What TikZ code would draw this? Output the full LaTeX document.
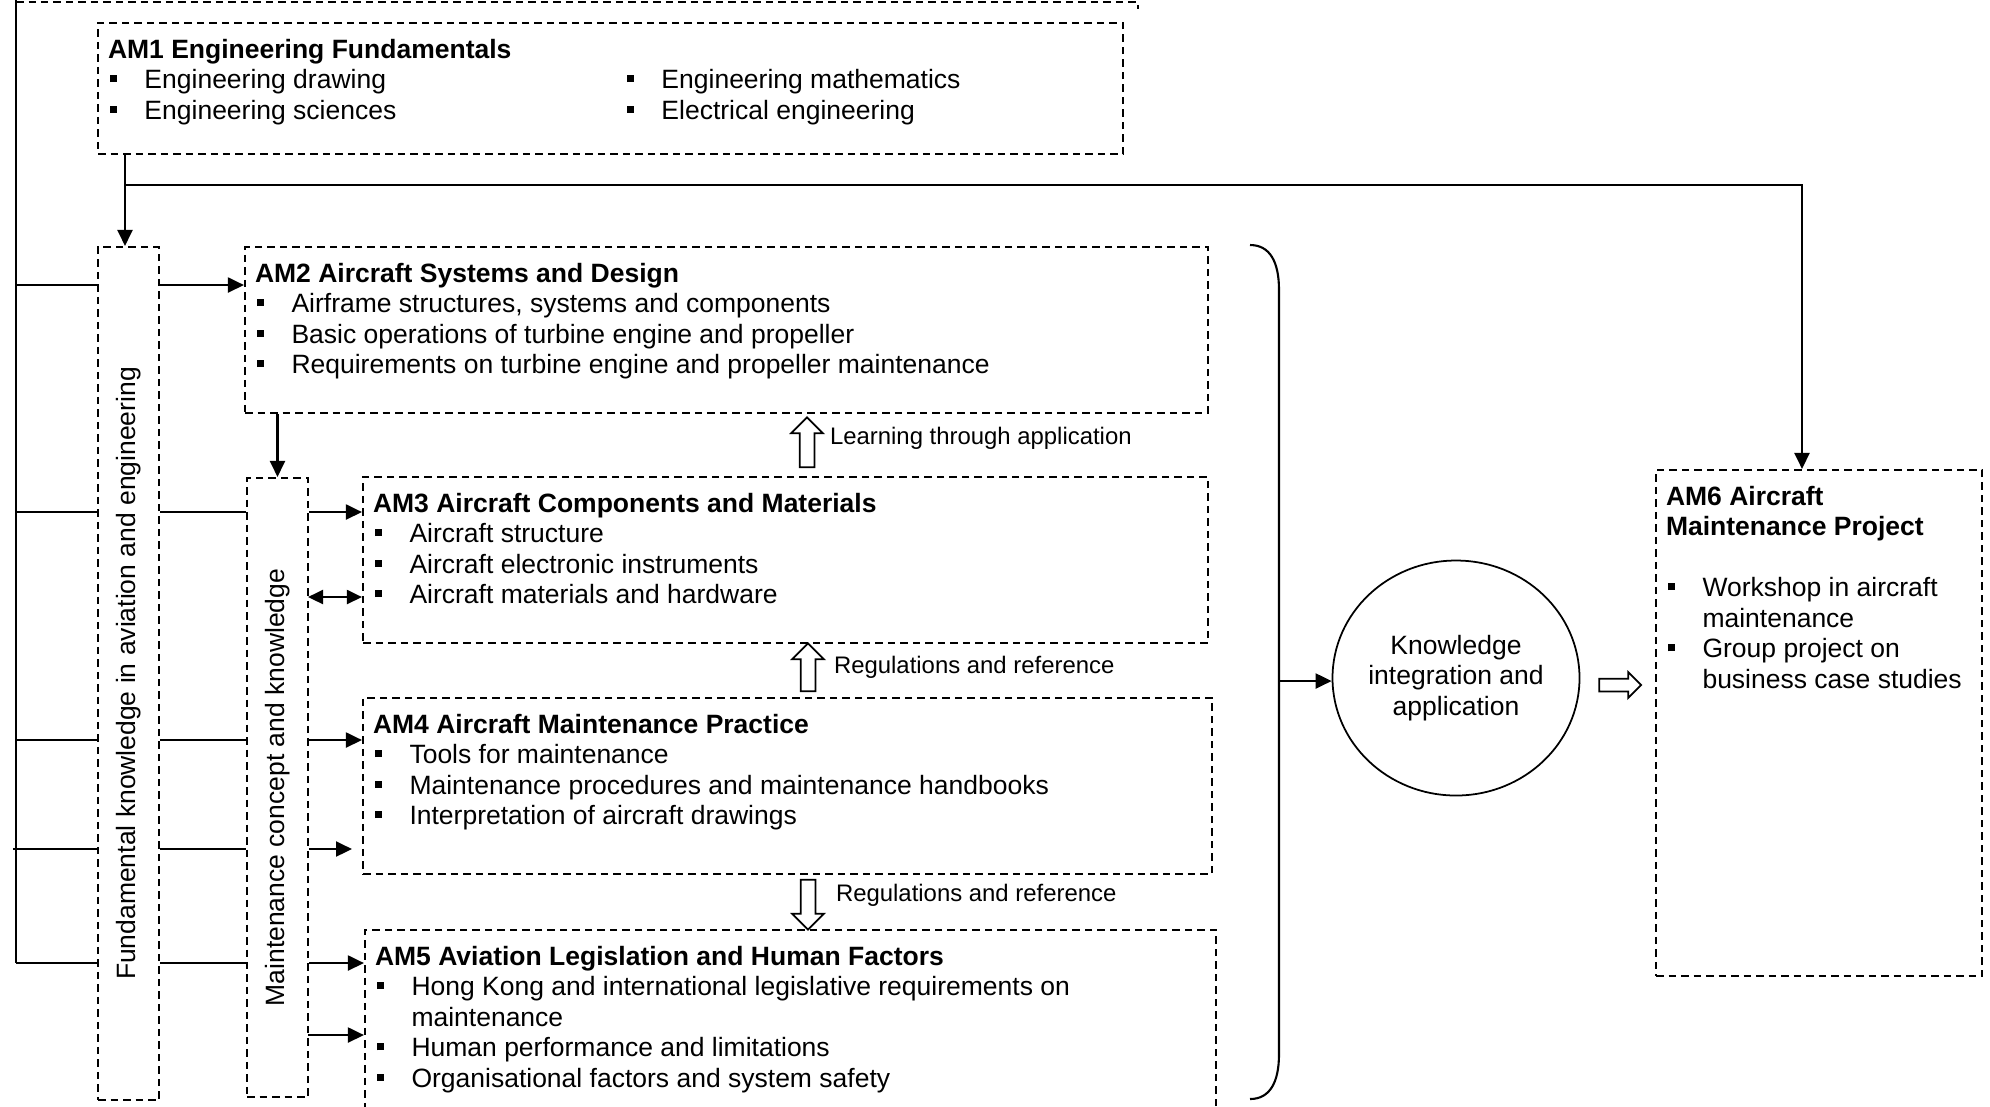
\documentclass[tikz,border=0pt]{standalone}
\usepackage{fontspec}
\setmainfont{Liberation Sans}
\usepackage{tikz}
\usetikzlibrary{arrows.meta,fit,shapes.geometric,shapes.arrows}

\newcommand{\sqitem}{\makebox[3.65mm][l]{\hspace{0.2mm}\rule[0.65mm]{0.7mm}{0.7mm}}}

\begin{document}
\begin{tikzpicture}[x=0.1mm,y=-0.1mm,line width=0.6pt,
  font=\fontsize{7.54pt}{8.68pt}\selectfont,
  modbox/.style={draw,dash pattern=on 0.75mm off 0.5mm,inner sep=0pt},
  modtext/.style={anchor=north west,align=left,inner xsep=1mm,inner ysep=1.6mm},
  arr/.style={-{Triangle[length=1.6mm,width=1.5mm]}},
  darr/.style={{Triangle[length=1.5mm,width=1.4mm]}-{Triangle[length=1.5mm,width=1.4mm]}},
  hollow/.style={single arrow,draw,single arrow head extend=0.85mm,inner sep=0.65mm,minimum height=5mm,line width=0.5pt},
  lbl/.style={anchor=west,inner sep=0pt,font=\fontsize{6.8pt}{8pt}\selectfont}]
\useasboundingbox (0,0) rectangle (1990,1106);

% module boxes
\node[modbox,fit={(98,23) (1123,154)}] (am1) {};
\node[modtext] (am1t) at (am1.north west) {\textbf{AM1 Engineering Fundamentals}\\
  \makebox[51.7mm][l]{\sqitem Engineering drawing}\sqitem Engineering mathematics\\
  \makebox[51.7mm][l]{\sqitem Engineering sciences}\sqitem Electrical engineering};

\node[modbox,fit={(98,247) (159,1100)}] (fund) {};
\node[rotate=90] (fundt) at (fund.center) {Fundamental knowledge in aviation and engineering};
\node[modbox,fit={(247,478) (308,1097)}] (maint) {};
\node[rotate=90] (maintt) at (maint.center) {Maintenance concept and knowledge};

\node[modbox,fit={(245,247) (1208,413)}] (am2) {};
\node[modtext] (am2t) at (am2.north west) {\textbf{AM2 Aircraft Systems and Design}\\
  \sqitem Airframe structures, systems and components\\
  \sqitem Basic operations of turbine engine and propeller\\
  \sqitem Requirements on turbine engine and propeller maintenance};

\node[modbox,fit={(363,477) (1208,643)}] (am3) {};
\node[modtext] (am3t) at (am3.north west) {\textbf{AM3 Aircraft Components and Materials}\\
  \sqitem Aircraft structure\\
  \sqitem Aircraft electronic instruments\\
  \sqitem Aircraft materials and hardware};

\node[modbox,fit={(363,698) (1212,874)}] (am4) {};
\node[modtext] (am4t) at (am4.north west) {\textbf{AM4 Aircraft Maintenance Practice}\\
  \sqitem Tools for maintenance\\
  \sqitem Maintenance procedures and maintenance handbooks\\
  \sqitem Interpretation of aircraft drawings};

\node[modbox,fit={(365,930) (1216,1130)}] (am5) {};
\node[modtext] (am5t) at (am5.north west) {\textbf{AM5 Aviation Legislation and Human Factors}\\
  \sqitem Hong Kong and international legislative requirements on\\
  \hspace*{3.65mm}maintenance\\
  \sqitem Human performance and limitations\\
  \sqitem Organisational factors and system safety};

\node[modbox,fit={(1656,470) (1982,976)}] (am6) {};
\node[modtext] (am6t) at (am6.north west) {\textbf{AM6 Aircraft}\\
  \textbf{Maintenance Project}\\[3.05mm]
  \sqitem Workshop in aircraft\\
  \hspace*{3.65mm}maintenance\\
  \sqitem Group project on\\
  \hspace*{3.65mm}business case studies};

\node[draw,ellipse,minimum width=24.7mm,minimum height=23.5mm,line width=0.5pt] (kia) at (1456,678) {};
\node[align=center] (kiat) at (kia.center) {Knowledge\\integration and\\application};

% hollow arrows
\node[hollow,rotate=90] (up1) at (807,446) {};
\node[lbl] (up1l) at (829,438) {Learning through application};
\node[hollow,rotate=90,minimum height=4.8mm] (up2) at (808,671) {};
\node[lbl] (up2l) at (833,667) {Regulations and reference};
\node[hollow,rotate=-90] (dn1) at (808,901) {};
\node[lbl] (dn1l) at (835,895) {Regulations and reference};
\node[hollow,minimum height=4.2mm,single arrow head extend=0.65mm,inner sep=0.55mm] (rt1) at (1617,685) {};

% bus and rows
\coordinate (bus) at (16,0);
\coordinate (r1) at (16,285);
\coordinate (r2) at (16,512);
\coordinate (r3) at (16,740);
\coordinate (r4) at (13,849);
\coordinate (r5) at (16,963);
\coordinate (r6) at (308,1035);
\coordinate (dbl) at (308,597);
\coordinate (r4end) at (352,849);
\coordinate (split) at (125,185);
\coordinate (corner) at (1802,185);
\coordinate (brace) at (1279,681);

\draw[modbox] (bus) ++(0,2) -- (1138,2) -- (1138,9);
\draw (bus) -- (r5);

\draw (r1) -- (r1 -| fund.west);
\draw[arr] (r1 -| fund.east) -- (r1 -| am2.west);

\draw (r2) -- (r2 -| fund.west);
\draw (r2 -| fund.east) -- (r2 -| maint.west);
\draw[arr] (r2 -| maint.east) -- (r2 -| am3.west);

\draw (r3) -- (r3 -| fund.west);
\draw (r3 -| fund.east) -- (r3 -| maint.west);
\draw[arr] (r3 -| maint.east) -- (r3 -| am4.west);

\draw (r4) -- (r4 -| fund.west);
\draw (r4 -| fund.east) -- (r4 -| maint.west);
\draw[arr] (r4 -| maint.east) -- (r4end);

\draw (r5) -- (r5 -| fund.west);
\draw (r5 -| fund.east) -- (r5 -| maint.west);
\draw[arr] (r5 -| maint.east) -- (r5 -| am5.west);

\draw[arr] (r6) -- (r6 -| am5.west);
\draw[darr] (dbl) -- (dbl -| am3.west);

\draw[arr] (split |- am1.south) -- (split |- fund.north);
\draw[arr] (split) -- (corner) -- (corner |- am6.north);
\draw[arr] (maint.north |- am2.south) -- (maint.north);

% brace to knowledge integration
\draw (1250,245) .. controls (1270,245) and (1279,262) .. (1279,290)
  -- (1279,1054) .. controls (1279,1082) and (1270,1099) .. (1250,1099);
\draw[arr] (brace) -- (brace -| kia.west);

\end{tikzpicture}
\end{document}
